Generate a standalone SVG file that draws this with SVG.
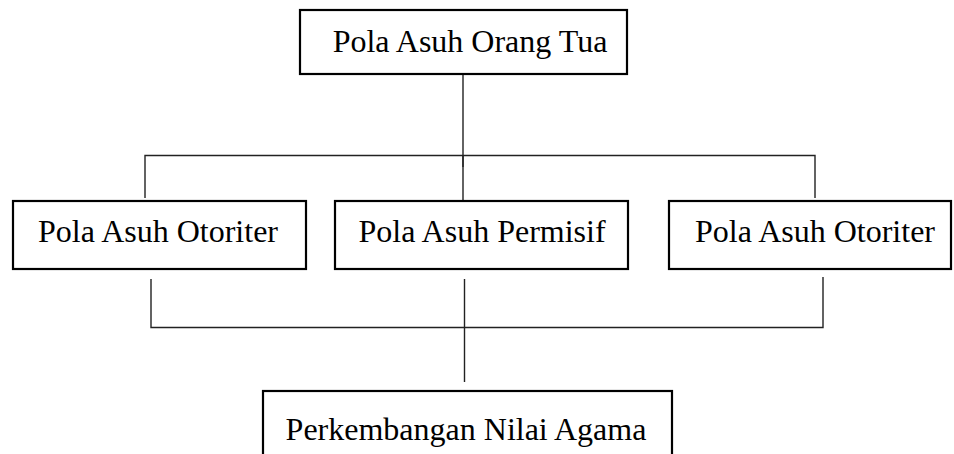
<svg xmlns="http://www.w3.org/2000/svg" width="954" height="454" viewBox="0 0 954 454">
<style>
.box{fill:#fff;stroke:#000;stroke-width:2.2}
.lbl{font-family:"Liberation Serif","Times New Roman",serif;font-size:32px;fill:#000;text-anchor:middle}
.conn{fill:none;stroke:#222;stroke-width:1.4}
</style>
<rect width="954" height="454" fill="#fff"/>
<g id="connectors">
<path class="conn" d="M463 74V167"/>
<path class="conn" d="M145 198V155.5H815V198"/>
<path class="conn" d="M463 155.5V202"/>
<path class="conn" d="M151 279V327.5H823V277"/>
<path class="conn" d="M464.5 279V382"/>
</g>
<g id="node-top">
<rect class="box" x="300" y="10" width="327" height="64"/>
<text class="lbl" x="470" y="52">Pola Asuh Orang Tua</text>
</g>
<g id="node-otoriter-1">
<rect class="box" x="13" y="201" width="293" height="68"/>
<text class="lbl" x="158" y="242">Pola Asuh Otoriter</text>
</g>
<g id="node-permisif">
<rect class="box" x="335" y="201" width="293" height="68"/>
<text class="lbl" x="482" y="242">Pola Asuh Permisif</text>
</g>
<g id="node-otoriter-2">
<rect class="box" x="669" y="201" width="282" height="68"/>
<text class="lbl" x="815" y="242">Pola Asuh Otoriter</text>
</g>
<g id="node-bottom">
<rect class="box" x="263" y="391" width="409" height="80"/>
<text class="lbl" x="466" y="440">Perkembangan Nilai Agama</text>
</g>
</svg>
